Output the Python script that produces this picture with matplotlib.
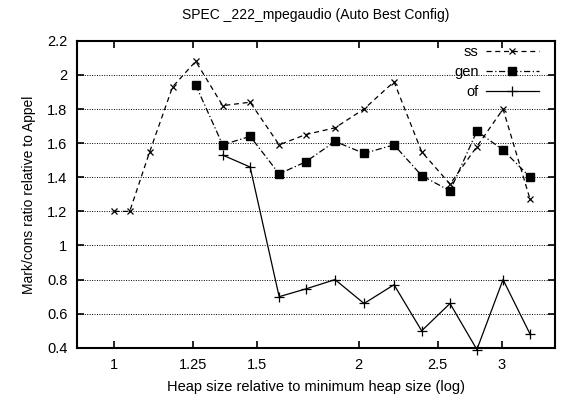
import matplotlib
matplotlib.use("Agg")
import matplotlib.pyplot as plt
from matplotlib.ticker import FixedLocator, FuncFormatter, NullLocator

plt.rcParams['font.family'] = ['Liberation Sans', 'DejaVu Sans']

ss_x = [1.0, 1.045, 1.106, 1.18, 1.26, 1.36, 1.47, 1.596, 1.72, 1.87, 2.03, 2.21, 2.39, 2.59, 2.795, 3.01, 3.25]
ss_y = [1.2, 1.2, 1.55, 1.93, 2.08, 1.82, 1.84, 1.59, 1.65, 1.69, 1.80, 1.96, 1.55, 1.36, 1.58, 1.80, 1.27]

gen_x = [1.26, 1.36, 1.47, 1.596, 1.72, 1.87, 2.03, 2.21, 2.39, 2.59, 2.795, 3.01, 3.25]
gen_y = [1.94, 1.59, 1.64, 1.42, 1.49, 1.61, 1.54, 1.59, 1.41, 1.32, 1.67, 1.56, 1.40]

of_x = [1.36, 1.47, 1.596, 1.72, 1.87, 2.03, 2.21, 2.39, 2.59, 2.795, 3.01, 3.25]
of_y = [1.53, 1.46, 0.70, 0.745, 0.80, 0.66, 0.77, 0.50, 0.66, 0.39, 0.80, 0.48]

x_ticks = [1, 1.25, 1.5, 2, 2.5, 3]
y_ticks = [0.4, 0.6, 0.8, 1.0, 1.2, 1.4, 1.6, 1.8, 2.0, 2.2]

fig = plt.figure(figsize=(5.62, 4.04), dpi=100)
ax = fig.add_axes([0.137, 0.139, 0.851, 0.76])

ax.plot(ss_x, ss_y, color='black', linestyle=(0, (4, 3)), linewidth=0.9,
        marker='x', markersize=5, markeredgewidth=0.9, label='ss')
ax.plot(gen_x, gen_y, color='black', linestyle=(0, (5, 2, 1, 2)), linewidth=0.9,
        marker='s', markersize=6, label='gen')
ax.plot(of_x, of_y, color='black', linestyle='-', linewidth=0.9,
        marker='+', markersize=7, markeredgewidth=0.9, label='of', clip_on=False)

ax.set_xscale('log')
ax.set_xlim(0.9, 3.49)
ax.set_ylim(0.4, 2.2)
ax.xaxis.set_major_locator(FixedLocator(x_ticks))
ax.xaxis.set_minor_locator(NullLocator())
ax.xaxis.set_major_formatter(FuncFormatter(lambda v, p: '%g' % v))
ax.yaxis.set_major_locator(FixedLocator(y_ticks))
ax.yaxis.set_major_formatter(FuncFormatter(lambda v, p: '%g' % round(v, 2)))

ax.tick_params(direction='in', top=True, right=True, length=5, width=1.2,
               labelsize=10.5, pad=7)
ax.grid(True, axis='y', linestyle=(0, (1, 1.5)), color='black', linewidth=0.7)
for s in ax.spines.values():
    s.set_linewidth(1.5)

ax.set_title('SPEC _222_mpegaudio (Auto Best Config)', fontsize=10, pad=16)
ax.set_xlabel('Heap size relative to minimum heap size (log)', fontsize=10.5, labelpad=6)
ax.set_ylabel('Mark/cons ratio relative to Appel', fontsize=10, labelpad=8)

leg = ax.legend(loc='upper right', bbox_to_anchor=(0.965, 0.985), frameon=False,
                markerfirst=False, fontsize=10.5, handlelength=3.6,
                handletextpad=0.5, labelspacing=0.4, borderaxespad=0,
                borderpad=0)

fig.savefig('out.png', dpi=100)
